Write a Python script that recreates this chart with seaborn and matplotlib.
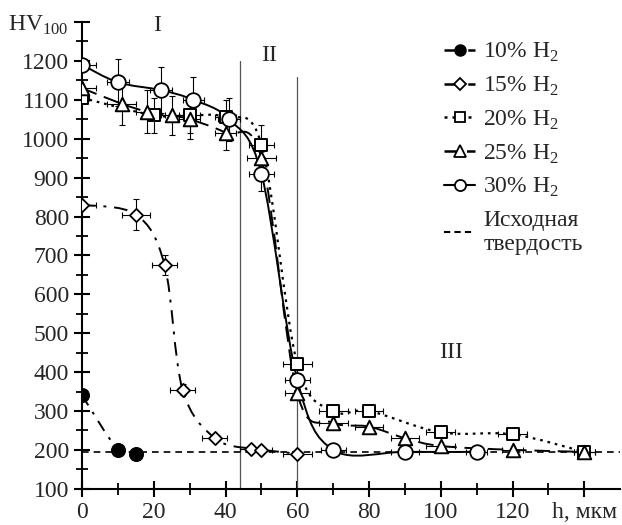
import numpy as np
import seaborn as sns
import matplotlib.pyplot as plt
from matplotlib.path import Path
from matplotlib.patches import PathPatch
from matplotlib.lines import Line2D

# data
h10 = [0, 10, 15]
hv10 = [340, 200, 190]

h15 = [0, 15, 23, 28, 37, 47, 50, 60]
hv15 = [830, 805, 675, 355, 230, 203, 200, 190]
xe15 = [4, 4, 3.5, 3.5, 3.5, 3, 3, 4]
ye15 = [0, 40, 25, 15, 0, 0, 0, 0]

h20 = [0, 20, 30, 40, 50, 60, 70, 80, 100, 120, 140]
hv20 = [1105, 1060, 1060, 1055, 985, 420, 300, 300, 245, 240, 195]
xe20 = [2, 3, 3, 3, 3.5, 4, 4, 4, 4, 4, 3]
ye20 = [0, 45, 45, 45, 50, 0, 0, 0, 0, 0, 0]

h25 = [0, 11, 18, 25, 30, 40, 50, 60, 70, 80, 90, 100, 120, 140]
hv25 = [1130, 1090, 1070, 1060, 1050, 1015, 950, 345, 270, 260, 230, 210, 200, 195]
xe25 = [4, 4, 3, 3, 3, 3, 4, 3.5, 4, 4, 4, 4, 3, 3]
ye25 = [0, 55, 55, 50, 50, 45, 0, 0, 0, 0, 0, 0, 0, 0]

h30 = [0, 10, 22, 31, 41, 50, 60, 70, 90, 110]
hv30 = [1190, 1145, 1125, 1100, 1050, 910, 380, 200, 195, 195]
xe30 = [4, 3, 3, 3, 3, 3.6, 3.5, 3.5, 4, 3]
ye30 = [0, 60, 60, 60, 55, 45, 25, 0, 0, 0]

base_hv = 195
zones = [44, 60]

sns.set_style('ticks')
plt.rcParams['font.family'] = ['Liberation Serif', 'DejaVu Serif']
plt.rcParams['mathtext.fontset'] = 'custom'
plt.rcParams['mathtext.rm'] = 'Liberation Serif'

fig = plt.figure(figsize=(6.22, 5.25), dpi=100)
ax = fig.add_axes([0.132, 0.069, 0.865, 0.889])


def smooth(ax, xs, ys, ls, lw=1.4):
    # excel-like smoothed line: cubic bezier through the points
    p = np.column_stack([xs, ys]).astype(float)
    n = len(p)
    verts = [p[0]]
    codes = [Path.MOVETO]
    for i in range(n - 1):
        p0 = p[i - 1] if i > 0 else p[i]
        p3 = p[i + 2] if i + 2 < n else p[i + 1]
        c1 = p[i] + (p[i + 1] - p0) / 6
        c2 = p[i + 1] - (p3 - p[i]) / 6
        verts += [c1, c2, p[i + 1]]
        codes += [Path.CURVE4] * 3
    ax.add_patch(PathPatch(Path(verts, codes), fill=False, edgecolor='black',
                           linestyle=ls, linewidth=lw, zorder=2))


ax.axhline(base_hv, color='black', linestyle=(0, (4, 3)), linewidth=1.2, zorder=1)
ax.plot([zones[0], zones[0]], [100, 1200], color='#555555', linewidth=0.9, zorder=1)
ax.plot([zones[1], zones[1]], [100, 1160], color='#555555', linewidth=0.9, zorder=1)

smooth(ax, h10, hv10, (0, (6, 4, 1.5, 4)))
smooth(ax, h15, hv15, (0, (7, 4, 1.5, 4)))
smooth(ax, h20, hv20, (0, (1.2, 2.2)), lw=1.6)
smooth(ax, h25, hv25, (0, (8, 4)))
smooth(ax, h30, hv30, '-')

for xs, ys, xe, ye in [(h15, hv15, xe15, ye15), (h20, hv20, xe20, ye20),
                       (h25, hv25, xe25, ye25), (h30, hv30, xe30, ye30)]:
    ax.errorbar(xs, ys, xerr=xe, yerr=ye, fmt='none', ecolor='black',
                elinewidth=0.8, capsize=2.5, capthick=0.8, zorder=3)

sns.scatterplot(x=h10, y=hv10, marker='o', s=100, color='black', edgecolor='black', ax=ax, zorder=4)
sns.scatterplot(x=h15, y=hv15, marker='D', s=45, color='white', edgecolor='black', linewidth=1.3, ax=ax, zorder=4)
sns.scatterplot(x=h20, y=hv20, marker='s', s=75, color='white', edgecolor='black', linewidth=1.4, ax=ax, zorder=4)
sns.scatterplot(x=h25, y=hv25, marker='^', s=95, color='white', edgecolor='black', linewidth=1.4, ax=ax, zorder=4)
sns.scatterplot(x=h30, y=hv30, marker='o', s=110, color='white', edgecolor='black', linewidth=1.3, ax=ax, zorder=5)

ax.set_xlim(0, 150)
ax.set_ylim(100, 1300)
ax.set_xticks(range(0, 141, 20))
ax.set_xticklabels([str(v) for v in range(0, 121, 20)] + ['h, мкм'])
ax.set_xticks(range(10, 150, 20), minor=True)
ax.set_yticks(range(100, 1301, 100))
ax.set_yticklabels([str(v) for v in range(100, 1201, 100)] + ['HV$_{100}$'])
ax.set_yticks(range(150, 1300, 100), minor=True)
ax.tick_params(which='major', direction='inout', length=12, width=1.5, labelsize=17, color='black')
ax.tick_params(which='minor', direction='inout', length=8, width=1.3, color='black')
sns.despine(ax=ax)
ax.spines['left'].set_linewidth(1.5)
ax.spines['bottom'].set_linewidth(1.5)
ax.spines['left'].set_color('black')
ax.spines['bottom'].set_color('black')

ax.text(21, 1290, 'I', fontsize=17, ha='center', va='center')
ax.text(52, 1215, 'II', fontsize=17, ha='center', va='center')
ax.text(103, 450, 'III', fontsize=17, ha='center', va='center')

handles = [
    Line2D([], [], color='black', marker='o', markersize=8, linewidth=1.8, linestyle=(0, (5, 1.5, 1.5, 1.5))),
    Line2D([], [], color='black', marker='D', markersize=6, linewidth=1.8, markerfacecolor='white', markeredgewidth=1.3, linestyle=(0, (5, 1.5, 1.5, 1.5))),
    Line2D([], [], color='black', marker='s', markersize=7.5, linewidth=1.8, markerfacecolor='white', markeredgewidth=1.3, linestyle=(0, (1.2, 2))),
    Line2D([], [], color='black', marker='^', markersize=8, linewidth=1.8, markerfacecolor='white', markeredgewidth=1.3, linestyle=(0, (6, 3))),
    Line2D([], [], color='black', marker='o', markersize=8, linewidth=1.5, markerfacecolor='white', markeredgewidth=1.3, linestyle='-'),
    Line2D([], [], color='black', linestyle=(0, (3, 2))),
]
labels = ['10% H$_2$', '15% H$_2$', '20% H$_2$', '25% H$_2$', '30% H$_2$', 'Исходная\nтвердость']
ax.legend(handles, labels, loc='upper right', bbox_to_anchor=(0.97, 1.005), frameon=False,
          fontsize=17, handlelength=1.3, handletextpad=0.35, labelspacing=0.45)

fig.savefig('out.png', dpi=100)
